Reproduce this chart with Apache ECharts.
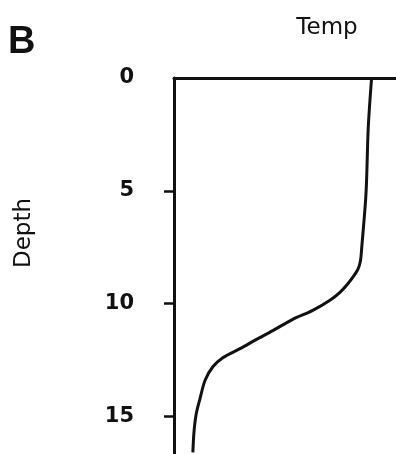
<!DOCTYPE html>
<html>
<head>
<meta charset="utf-8">
<script src="https://cdn.jsdelivr.net/npm/echarts@6/dist/echarts.min.js"></script>
<style>html,body{margin:0;padding:0;background:#fff;}#c{width:396px;height:454px;}</style>
</head>
<body>
<div id="c"></div>
<script>
// Data
var depth = [0, 2.2, 5.1, 7.6, 8.1, 8.5, 9.1, 9.5, 9.85, 10.3, 10.7, 11.2, 11.6, 12.0, 12.4, 12.8, 13.4, 14.2, 14.9, 15.7, 16.6];
var temp  = [17.8, 17.5, 17.3, 16.9, 16.8, 16.55, 15.7, 14.95, 14.05, 12.5, 10.7, 8.9, 7.4, 5.95, 4.4, 3.5, 2.8, 2.35, 2.0, 1.8, 1.7];
var depthLabels = [0, 5, 10, 15];
var depthTickMarks = [5, 10, 15];
var panelLabel = 'B';
var xTitle = 'Temp';
var yTitle = 'Depth';

var pts = depth.map(function (d, i) { return [temp[i], d]; });
var chart = echarts.init(document.getElementById('c'), null, {renderer: 'canvas'});
var ink = '#111';
chart.setOption({
  animation: false,
  backgroundColor: '#fff',
  grid: {left: 174, top: 78, right: 0, bottom: 0, containLabel: false},
  xAxis: {
    type: 'value', position: 'top', min: 0, max: 20,
    axisLine: {show: true, lineStyle: {color: ink, width: 3}},
    axisTick: {show: false}, axisLabel: {show: false}, splitLine: {show: false}
  },
  yAxis: {
    type: 'value', inverse: true, min: 0, max: 16.67,
    axisLine: {show: true, lineStyle: {color: ink, width: 3}},
    axisTick: {show: true, inside: false, length: 10, customValues: depthTickMarks, lineStyle: {color: ink, width: 2.5}},
    axisLabel: {show: true, customValues: depthLabels, margin: 40, color: ink,
      fontFamily: 'DejaVu Sans', fontWeight: 'bold', fontSize: 21},
    splitLine: {show: false}
  },
  graphic: [
    {type: 'text', left: 8, top: 24, style: {text: panelLabel, font: 'bold 38px "Liberation Sans"', fill: ink}},
    {type: 'text', x: 327, y: 28, style: {text: xTitle, font: '500 23px "DejaVu Sans"', fill: ink, align: 'center', verticalAlign: 'middle'}},
    {type: 'text', x: 24, y: 233, rotation: Math.PI / 2, style: {text: yTitle, font: '500 23px "DejaVu Sans"', fill: ink, align: 'center', verticalAlign: 'middle'}}
  ],
  series: [{
    type: 'line', data: pts, showSymbol: false, smooth: 0.3,
    lineStyle: {color: ink, width: 3}
  }]
});
</script>
</body>
</html>
